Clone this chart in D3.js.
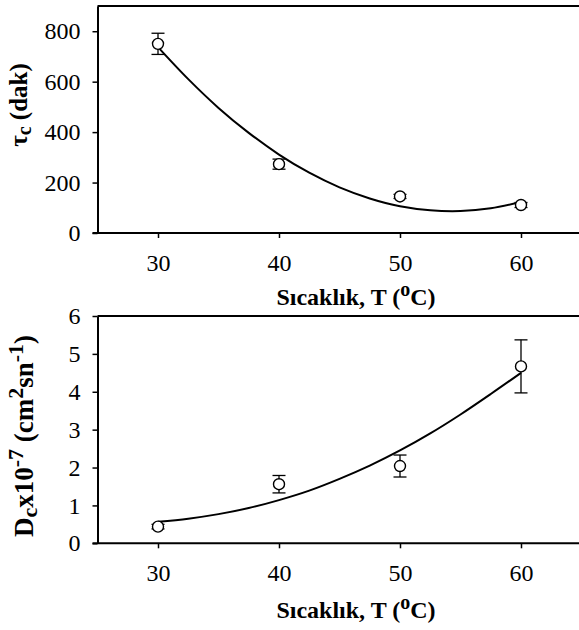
<!DOCTYPE html>
<html>
<head>
<meta charset="utf-8">
<script src="https://cdn.jsdelivr.net/npm/d3@7"></script>
<style>
  body { margin: 0; background: #fff; }
  svg { display: block; }
</style>
</head>
<body>
<div id="chart"></div>
<script>
// temperatures (x) shared by both panels
let temps = [30, 40, 50, 60];
let xTicks = [30, 40, 50, 60];

// top panel: tau_c (dak)
let tauValues = [750, 273, 145, 111];
let tauErrors = [42, 20, 8, 10];
let tauTicks = [0, 200, 400, 600, 800];
// trend curve
let tauCurveX = [30, 32.5, 35, 37.5, 40, 42.5, 45, 47.5, 50, 52.5, 55, 57.5, 60];
let tauCurveY = [737, 610, 496, 397, 311, 239, 181, 137, 106, 90, 87, 98, 123];

// bottom panel: Dc x10-7
let dcValues = [0.44, 1.56, 2.04, 4.67];
let dcErrors = [0.06, 0.23, 0.29, 0.7];
let dcTicks = [0, 1, 2, 3, 4, 5, 6];
let dcCurveX = [30, 32.5, 35, 37.5, 40, 42.5, 45, 47.5, 50, 52.5, 55, 57.5, 60];
let dcCurveY = [0.57, 0.65, 0.77, 0.93, 1.14, 1.39, 1.70, 2.05, 2.45, 2.90, 3.40, 3.94, 4.50];

let width = 579;
let height = 630;
let serif = "'Liberation Serif'";

let svg = d3.select("#chart").append("svg")
    .attr("width", width)
    .attr("height", height);

let xScale = d3.scaleLinear().domain([25, 65]).range([97.5, 581.5]);

function drawPanel(opts) {
    let g = svg.append("g");
    let yScale = d3.scaleLinear().domain(opts.yDomain).range([opts.bottom, opts.top]);

    // top frame line
    g.append("line")
        .attr("x1", xScale(25)).attr("x2", width)
        .attr("y1", opts.top).attr("y2", opts.top)
        .attr("stroke", "#000").attr("stroke-width", 2);

    let xAxis = g.append("g")
        .attr("transform", "translate(0," + opts.bottom + ")")
        .call(d3.axisBottom(xScale).tickValues(xTicks).tickSize(5).tickSizeOuter(0).tickPadding(16));
    xAxis.select(".domain").attr("stroke-width", 2).attr("d", "M92.5,0H" + width);
    xAxis.selectAll(".tick line").attr("stroke-width", 1.5);
    xAxis.selectAll("text").style("font-family", serif).style("font-size", "24px");

    let yAxis = g.append("g")
        .attr("transform", "translate(" + xScale(25) + ",0)")
        .call(d3.axisLeft(yScale).tickValues(opts.yTicks).tickFormat(d3.format("d"))
            .tickSize(5).tickSizeOuter(0).tickPadding(12));
    yAxis.select(".domain").attr("stroke-width", 2);
    yAxis.selectAll(".tick line").attr("stroke-width", 1.5);
    yAxis.selectAll("text").style("font-family", serif).style("font-size", "24px");

    // trend curve
    let pts = opts.curveX.map((x, i) => [x, opts.curveY[i]]);
    g.append("path")
        .datum(pts)
        .attr("fill", "none")
        .attr("stroke", "#000")
        .attr("stroke-width", 2)
        .attr("d", d3.line().x(d => xScale(d[0])).y(d => yScale(d[1])).curve(d3.curveCatmullRom));

    // error bars
    let bars = g.selectAll(".err").data(temps).enter().append("g").attr("class", "err");
    bars.append("line")
        .attr("x1", d => xScale(d)).attr("x2", d => xScale(d))
        .attr("y1", (d, i) => yScale(opts.values[i] - opts.errors[i]))
        .attr("y2", (d, i) => yScale(opts.values[i] + opts.errors[i]))
        .attr("stroke", "#000").attr("stroke-width", 1.3);
    [-1, 1].forEach(s => {
        bars.append("line")
            .attr("x1", d => xScale(d) - 6.5).attr("x2", d => xScale(d) + 6.5)
            .attr("y1", (d, i) => yScale(opts.values[i] + s * opts.errors[i]))
            .attr("y2", (d, i) => yScale(opts.values[i] + s * opts.errors[i]))
            .attr("stroke", "#000").attr("stroke-width", 1.3);
    });

    // points
    g.selectAll(".pt").data(temps).enter().append("circle")
        .attr("class", "pt")
        .attr("cx", d => xScale(d))
        .attr("cy", (d, i) => yScale(opts.values[i]))
        .attr("r", 5.5)
        .attr("fill", "#fff")
        .attr("stroke", "#000")
        .attr("stroke-width", 1.4);

    // x title
    let xt = g.append("text")
        .attr("x", 356).attr("y", opts.xTitleY)
        .attr("text-anchor", "middle")
        .style("font-family", serif).style("font-size", "24px").style("font-weight", "bold");
    xt.append("tspan").text("Sıcaklık, T (");
    xt.append("tspan").text("o").style("font-size", "20px").attr("dy", -9);
    xt.append("tspan").text("C)").attr("dy", 9);

    return g;
}

drawPanel({
    top: 6, bottom: 233, yDomain: [0, 900], yTicks: tauTicks,
    values: tauValues, errors: tauErrors, curveX: tauCurveX, curveY: tauCurveY,
    xTitleY: 305
});

drawPanel({
    top: 316, bottom: 543.3, yDomain: [0, 6], yTicks: dcTicks,
    values: dcValues, errors: dcErrors, curveX: dcCurveX, curveY: dcCurveY,
    xTitleY: 618
});

// y titles
let yt1 = svg.append("text")
    .attr("transform", "translate(27,105) rotate(-90)")
    .attr("text-anchor", "middle")
    .style("font-family", serif).style("font-size", "25px").style("font-weight", "bold");
yt1.append("tspan").text("τ");
yt1.append("tspan").text("c").style("font-size", "20px").attr("dy", 4);
yt1.append("tspan").text(" (dak)").attr("dy", -4);

let yt2 = svg.append("text")
    .attr("transform", "translate(33,436) rotate(-90)")
    .attr("text-anchor", "middle")
    .style("font-family", serif).style("font-size", "27px").style("font-weight", "bold");
yt2.append("tspan").text("D");
yt2.append("tspan").text("c").style("font-size", "22px").attr("dy", 4);
yt2.append("tspan").text("x10").attr("dy", -4);
yt2.append("tspan").text("-7").style("font-size", "22px").attr("dy", -10);
yt2.append("tspan").text(" (cm").attr("dy", 10);
yt2.append("tspan").text("2").style("font-size", "22px").attr("dy", -10);
yt2.append("tspan").text("sn").attr("dy", 10);
yt2.append("tspan").text("-1").style("font-size", "22px").attr("dy", -10);
yt2.append("tspan").text(")").attr("dy", 10);
</script>
</body>
</html>
